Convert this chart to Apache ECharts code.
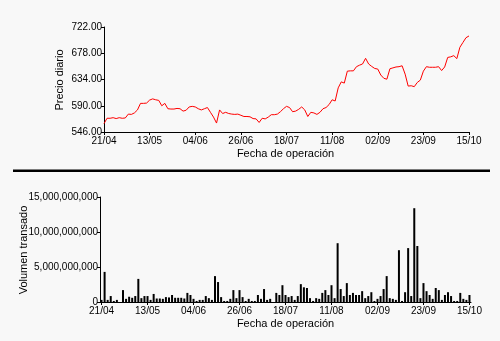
<!DOCTYPE html>
<html>
<head>
<meta charset="utf-8">
<script src="https://cdn.jsdelivr.net/npm/echarts@6/dist/echarts.min.js"></script>
<style>
  html, body { margin: 0; padding: 0; background: #f8f8f8; }
  #chart { width: 500px; height: 341px; }
</style>
</head>
<body>
<div id="chart"></div>
<script>
// Date labels shown every 15 trading sessions
const tickLabels = ['21/04', '13/05', '04/06', '26/06', '18/07', '11/08', '02/09', '23/09', '15/10'];
const labelStep = 15;

// Daily closing price, one value per trading session (121 sessions)
const dailyPrice = [
  560, 569, 569, 570, 568.5, 570, 569, 569.5, 576, 575.5,
  578, 583, 594, 594, 594.5, 599.5, 601.5, 600, 599, 590,
  594, 585, 584.5, 584.5, 585.5, 585, 581, 582.5, 588, 589,
  588, 585, 583, 585, 587, 579, 571, 561, 583, 577,
  579, 577, 576, 575.5, 576, 574, 572, 572, 571.5, 568.5,
  568, 562, 569, 568, 571, 575, 575, 576, 580, 585,
  589, 587, 580, 581, 584, 588, 583, 572, 579, 578,
  575.5, 579, 585, 587, 592, 600, 598, 620, 630, 628,
  648, 648.5, 648.5, 655.5, 658, 660, 669.5, 660, 656, 652.5,
  651.5, 641.5, 636, 634.5, 652, 653.5, 655, 655.5, 657, 643,
  623, 623.5, 622, 629, 633, 648, 655.5, 654.5, 654.5, 654.5,
  655.5, 649, 655, 671, 672, 674, 669, 688, 696, 704,
  707
];

// Traded volume per session, in billions
const volumeBillions = [
  0.3, 4.3, 0.3, 0.85, 0.15, 0.3, 0, 1.7, 0.45, 0.75,
  0.6, 0.85, 3.3, 0.55, 0.85, 0.85, 0.3, 1.15, 0.5, 0.5,
  0.45, 0.7, 0.65, 1.0, 0.6, 0.6, 0.6, 0.5, 1.3, 1.0,
  0.45, 0.15, 0.3, 0.3, 0.85, 0.55, 0.3, 3.7, 2.85, 0.7,
  0.15, 0.15, 0.45, 1.7, 0.55, 1.7, 0.7, 0.15, 0.45, 0.15,
  0.15, 1.0, 0.45, 1.85, 0.3, 0.45, 0, 1.3, 1.0, 2.4,
  1.0, 0.7, 0.85, 0.3, 0.85, 2.55, 2.1, 2.0, 0.55, 0.15,
  0.55, 0.45, 1.3, 1.7, 1.0, 2.4, 0.55, 8.4, 1.85, 0.85,
  2.7, 1.0, 1.3, 1.0, 1.0, 1.55, 0.55, 0.85, 1.4, 0.15,
  0.45, 0.85, 1.85, 3.7, 0.55, 0.45, 0.3, 7.4, 0.15, 1.4,
  7.7, 0.85, 13.4, 8.0, 0.55, 2.7, 1.55, 1.0, 0.45, 2.0,
  1.7, 0.3, 1.0, 1.4, 0.85, 0.15, 0.15, 1.3, 0.45, 0.3,
  1.0
];

// Session categories: every 15th session carries its date
const sessions = dailyPrice.map((_, i) => (i % labelStep === 0 ? tickLabels[i / labelStep] : ''));
const volume = volumeBillions.map(v => v * 1e9);

const tickFont = {
  fontFamily: '"Liberation Sans Narrow", "Liberation Sans", Arial, sans-serif',
  fontSize: 10,
  color: '#000'
};
const titleFont = '11px "Liberation Sans", Arial, sans-serif';
const axisLine = { show: true, lineStyle: { color: '#000', width: 1 } };

const chart = echarts.init(document.getElementById('chart'), null, { renderer: 'canvas' });

chart.setOption({
  backgroundColor: '#f8f8f8',
  animation: false,
  grid: [
    { left: 104, top: 27, width: 365, height: 105 },
    { left: 100, top: 197, width: 371, height: 105 }
  ],
  xAxis: [
    {
      type: 'category', gridIndex: 0, data: sessions, boundaryGap: false,
      axisLine: axisLine,
      axisTick: { show: true, interval: labelStep - 1, length: 3, lineStyle: { color: '#000' } },
      axisLabel: Object.assign({ interval: labelStep - 1, margin: 4 }, tickFont),
      splitLine: { show: false }
    },
    {
      type: 'category', gridIndex: 1, data: sessions, boundaryGap: true,
      axisLine: axisLine,
      axisTick: { show: true, interval: labelStep - 1, alignWithLabel: true, length: 3, lineStyle: { color: '#000' } },
      axisLabel: Object.assign({ interval: labelStep - 1, margin: 4 }, tickFont),
      splitLine: { show: false }
    }
  ],
  yAxis: [
    {
      type: 'value', gridIndex: 0, min: 546, max: 722, interval: 44,
      axisLine: axisLine,
      axisTick: { show: true, length: 3, lineStyle: { color: '#000' } },
      axisLabel: Object.assign({ margin: 2, formatter: v => v.toFixed(2) }, tickFont),
      splitLine: { show: false }
    },
    {
      type: 'value', gridIndex: 1, min: 0, max: 15e9, interval: 5e9,
      axisLine: axisLine,
      axisTick: { show: true, length: 3, lineStyle: { color: '#000' } },
      axisLabel: Object.assign({ margin: 2, formatter: v => v.toLocaleString('en-US') }, tickFont),
      splitLine: { show: false }
    }
  ],
  series: [
    {
      name: 'Precio diario', type: 'line', xAxisIndex: 0, yAxisIndex: 0,
      data: dailyPrice, showSymbol: false, symbol: 'none',
      lineStyle: { color: '#ff0000', width: 1 }
    },
    {
      name: 'Volumen transado', type: 'bar', xAxisIndex: 1, yAxisIndex: 1,
      data: volume, barWidth: 2,
      itemStyle: { color: '#000' }
    }
  ],
  graphic: [
    { type: 'rect', shape: { x: 13, y: 169.5, width: 477, height: 2.5 }, style: { fill: '#000' } },
    { type: 'text', x: 60, y: 80, rotation: Math.PI / 2,
      style: { text: 'Precio diario', font: titleFont, fill: '#000', align: 'center', verticalAlign: 'middle' } },
    { type: 'text', x: 285.5, y: 153.5,
      style: { text: 'Fecha de operación', font: titleFont, fill: '#000', align: 'center', verticalAlign: 'middle' } },
    { type: 'text', x: 23.5, y: 250, rotation: Math.PI / 2,
      style: { text: 'Volumen transado', font: titleFont, fill: '#000', align: 'center', verticalAlign: 'middle' } },
    { type: 'text', x: 285.5, y: 323.5,
      style: { text: 'Fecha de operación', font: titleFont, fill: '#000', align: 'center', verticalAlign: 'middle' } }
  ]
});
</script>
</body>
</html>
